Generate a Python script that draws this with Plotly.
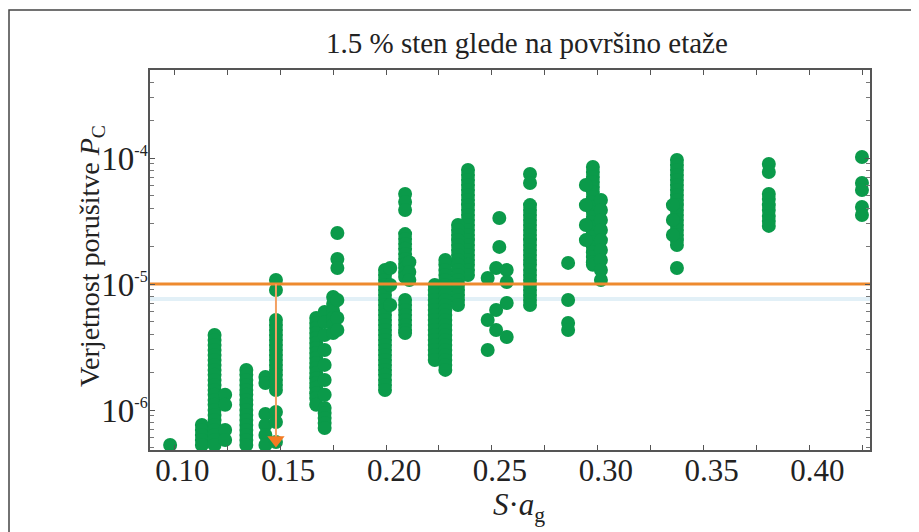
import plotly.graph_objects as go

# S*a_g position of each column of results
col_sag = [0.098, 0.113, 0.119, 0.124, 0.134, 0.143, 0.148, 0.167, 0.171, 0.175,
           0.177, 0.1995, 0.202, 0.209, 0.211, 0.223, 0.228, 0.2387, 0.234,
           0.2535, 0.252, 0.248, 0.257, 0.268, 0.286, 0.2977, 0.3015, 0.2944,
           0.3374, 0.3355, 0.3808, 0.4248]

# probability of collapse P_C for the points in each column
col_pc = [
    [5.27e-7],
    [7.6e-7, 6.94e-7, 6.33e-7, 5.78e-7, 5.27e-7],
    [3.94e-6, 3.59e-6, 3.28e-6, 2.99e-6, 2.73e-6, 2.49e-6, 2.28e-6, 2.08e-6, 1.90e-6, 1.73e-6,
     1.58e-6, 1.44e-6, 1.32e-6, 1.20e-6, 1.10e-6, 1.00e-6, 9.13e-7, 8.33e-7, 7.60e-7, 6.94e-7,
     6.33e-7, 5.78e-7, 5.27e-7],
    [1.32e-6, 1.10e-6, 6.94e-7, 5.78e-7],
    [2.08e-6, 1.90e-6, 1.73e-6, 1.58e-6, 1.44e-6, 1.32e-6, 1.20e-6, 1.10e-6, 1.00e-6, 9.13e-7,
     8.33e-7, 7.60e-7, 6.94e-7, 6.33e-7, 5.78e-7, 5.27e-7],
    [1.83e-6, 1.64e-6, 9.29e-7, 7.60e-7, 6.33e-7, 5.27e-7],
    [1.076e-5, 8.96e-6, 5.18e-6, 4.73e-6, 4.31e-6, 3.94e-6, 3.59e-6, 3.28e-6, 2.99e-6, 2.73e-6,
     2.49e-6, 2.28e-6, 2.08e-6, 1.90e-6, 1.73e-6, 1.58e-6, 1.44e-6, 9.64e-7, 8.03e-7, 5.57e-7],
    [5.37e-6, 4.90e-6, 4.47e-6, 4.08e-6, 3.73e-6, 3.40e-6, 3.11e-6, 2.83e-6, 2.59e-6, 2.36e-6,
     2.15e-6, 1.97e-6, 1.79e-6, 1.64e-6, 1.50e-6, 1.36e-6, 1.245e-6, 1.10e-6],
    [5.99e-6, 4.99e-6, 3.94e-6, 2.99e-6, 2.28e-6, 1.73e-6, 1.32e-6, 1.037e-6, 9.47e-7, 8.64e-7,
     7.88e-7, 7.20e-7],
    [7.88e-6, 6.94e-6, 6.10e-6, 5.37e-6, 4.73e-6, 4.08e-6],
    [2.54e-5, 1.58e-5, 1.34e-5, 7.46e-6, 5.37e-6, 4.31e-6],
    [1.29e-5, 1.18e-5, 1.076e-5, 9.82e-6, 8.96e-6, 8.18e-6, 7.46e-6, 6.81e-6, 6.22e-6, 5.68e-6,
     5.18e-6, 4.73e-6, 4.31e-6, 3.94e-6, 3.59e-6, 3.28e-6, 2.99e-6, 2.73e-6, 2.49e-6, 2.28e-6,
     2.08e-6, 1.90e-6, 1.73e-6, 1.58e-6, 1.44e-6],
    [1.34e-5, 9.82e-6, 6.81e-6],
    [5.18e-5, 4.47e-5, 3.87e-5, 2.49e-5, 2.28e-5, 2.08e-5, 1.90e-5, 1.73e-5, 1.58e-5, 1.44e-5,
     1.34e-5, 1.22e-5, 1.136e-5, 7.46e-6, 6.81e-6, 6.22e-6, 5.68e-6, 5.18e-6, 4.73e-6, 4.31e-6,
     4.08e-6],
    [1.49e-5, 1.245e-5, 1.076e-5],
    [9.82e-6, 8.96e-6, 8.18e-6, 7.46e-6, 6.81e-6, 6.22e-6, 5.68e-6, 5.18e-6, 4.73e-6, 4.31e-6,
     3.94e-6, 3.59e-6, 3.28e-6, 2.99e-6, 2.73e-6, 2.49e-6],
    [1.55e-5, 1.42e-5, 1.29e-5, 1.18e-5, 1.076e-5, 9.82e-6, 8.96e-6, 8.18e-6, 7.46e-6, 6.81e-6,
     6.22e-6, 5.68e-6, 5.18e-6, 4.73e-6, 4.31e-6, 3.94e-6, 3.59e-6, 3.28e-6, 2.99e-6, 2.73e-6,
     2.49e-6, 2.28e-6, 2.08e-6],
    [8.03e-5, 7.33e-5, 6.69e-5, 6.10e-5, 5.57e-5, 5.08e-5, 4.64e-5, 4.23e-5, 3.87e-5, 3.53e-5,
     3.22e-5, 2.94e-5, 2.68e-5, 2.45e-5, 2.23e-5, 2.04e-5, 1.86e-5, 1.70e-5, 1.55e-5, 1.42e-5,
     1.29e-5, 1.18e-5],
    [2.94e-5, 2.68e-5, 2.45e-5, 2.23e-5, 2.04e-5, 1.86e-5, 1.70e-5, 1.55e-5, 1.42e-5, 1.29e-5,
     1.18e-5, 1.076e-5, 9.82e-6, 8.96e-6, 8.18e-6, 7.46e-6, 6.81e-6],
    [3.34e-5, 1.97e-5],
    [1.34e-5, 6.22e-6, 4.31e-6],
    [1.116e-5, 5.18e-6, 2.99e-6],
    [1.29e-5, 1.037e-5, 7.07e-6, 3.80e-6],
    [7.46e-5, 6.33e-5, 4.23e-5, 3.87e-5, 3.53e-5, 3.22e-5, 2.94e-5, 2.68e-5, 2.45e-5, 2.23e-5,
     2.04e-5, 1.86e-5, 1.70e-5, 1.55e-5, 1.42e-5, 1.29e-5, 1.18e-5, 1.076e-5, 9.82e-6, 8.96e-6,
     8.18e-6, 7.46e-6, 6.81e-6],
    [1.47e-5, 7.46e-6, 4.90e-6, 4.31e-6],
    [8.48e-5, 7.74e-5, 7.07e-5, 6.45e-5, 5.89e-5, 5.37e-5, 4.90e-5, 4.47e-5, 4.08e-5, 3.73e-5,
     3.40e-5, 3.11e-5, 2.83e-5, 2.59e-5, 2.36e-5, 2.15e-5, 1.97e-5, 1.79e-5, 1.64e-5, 1.49e-5,
     1.42e-5],
    [4.64e-5, 3.87e-5, 3.22e-5, 2.68e-5, 2.23e-5, 1.86e-5, 1.55e-5, 1.29e-5, 1.076e-5],
    [6.10e-5, 4.23e-5, 2.94e-5, 2.23e-5],
    [9.64e-5, 8.80e-5, 8.03e-5, 7.33e-5, 6.69e-5, 6.10e-5, 5.57e-5, 5.08e-5, 4.64e-5, 4.23e-5,
     3.87e-5, 3.53e-5, 3.22e-5, 2.94e-5, 2.68e-5, 2.45e-5, 2.23e-5, 2.04e-5, 1.34e-5],
    [4.23e-5, 3.22e-5, 2.45e-5],
    [8.96e-5, 7.74e-5, 5.18e-5, 4.73e-5, 4.23e-5, 3.87e-5, 3.46e-5, 3.16e-5, 2.89e-5],
    [1.018e-4, 6.33e-5, 5.57e-5, 4.08e-5, 3.53e-5],
]

x_ticks = [0.10, 0.15, 0.20, 0.25, 0.30, 0.35, 0.40]
x_ticklabels = ["0.10", "0.15", "0.20", "0.25", "0.30", "0.35", "0.40"]
y_ticks = [1e-6, 1e-5, 1e-4]
y_ticklabels = ["10<sup><span style='font-size:16px'>-6</span></sup>",
                "10<sup><span style='font-size:16px'>-5</span></sup>",
                "10<sup><span style='font-size:16px'>-4</span></sup>"]

threshold_pc = 1.0e-5      # horizontal target line
ghost_pc = 7.6e-6          # faint light line below it
arrow_sag = 0.148          # vertical arrow position
arrow_end_pc = 5.57e-7
arrow_head_pc = 5.78e-7

x_range = [0.0885, 0.4286]
y_range_log = [-6.3175, -3.3016]

xs, ys = [], []
for sx, vals in zip(col_sag, col_pc):
    for v in vals:
        xs.append(sx)
        ys.append(v)

FONT = "Liberation Serif"
GREEN = "#0b9a4a"
ORANGE = "#ee8a2e"

fig = go.Figure()

fig.add_trace(go.Scatter(x=x_range, y=[ghost_pc, ghost_pc], mode="lines",
                         line=dict(color="#e2f0f7", width=4), hoverinfo="skip"))

fig.add_trace(go.Scatter(x=xs, y=ys, mode="markers",
                         marker=dict(color=GREEN, size=14, line=dict(width=0))))

fig.add_trace(go.Scatter(x=x_range, y=[threshold_pc, threshold_pc], mode="lines",
                         line=dict(color=ORANGE, width=3), hoverinfo="skip"))

fig.add_trace(go.Scatter(x=[arrow_sag, arrow_sag], y=[threshold_pc, arrow_end_pc], mode="lines",
                         line=dict(color="#f3a062", width=2), hoverinfo="skip"))
fig.add_trace(go.Scatter(x=[arrow_sag], y=[arrow_head_pc], mode="markers",
                         marker=dict(symbol="triangle-down", size=15, color="#f47a22"),
                         hoverinfo="skip"))

axis_common = dict(
    showline=True, linecolor="#555555", linewidth=1.5, mirror="ticks",
    ticks="inside", ticklen=5, tickwidth=1, tickcolor="#555555",
    showgrid=False, zeroline=False,
)

fig.update_xaxes(range=x_range, tickmode="array", tickvals=x_ticks, ticktext=x_ticklabels,
                 tickfont=dict(family=FONT, size=31, color="#222"),
                 ticklabelstandoff=-8, ticklabelshift=8,
                 minor=dict(ticks="inside", ticklen=5, tickcolor="#555555",
                            tickmode="linear", tick0=0.075, dtick=0.05),
                 **axis_common)

fig.update_yaxes(type="log", range=y_range_log, tickmode="array", tickvals=y_ticks,
                 ticktext=y_ticklabels,
                 tickfont=dict(family=FONT, size=33, color="#222"),
                 ticklabelstandoff=-6,
                 minor=dict(ticks="inside", ticklen=4, tickcolor="#777777", dtick="D1"),
                 **axis_common)

# the page adds an 8 px body margin, so the figure is 8 px smaller and offset
OFF = 8
W, H = 919 - OFF, 532 - OFF
L, R, T, B = 150 - OFF, 49, 70 - OFF, 82


def px(xp):
    return (xp - 150) / 720


def py(yp):
    return (450 - yp) / 380


fig.update_layout(
    width=W, height=H,
    margin=dict(l=L, r=R, t=T, b=B),
    paper_bgcolor="white", plot_bgcolor="white",
    showlegend=False,
    font=dict(family=FONT, color="#222"),
    annotations=[
        dict(text="1.5 % sten glede na površino etaže", xref="paper", yref="paper",
             x=px(527), y=py(43), showarrow=False, font=dict(size=29, family=FONT, color="#222"),
             xanchor="center", yanchor="middle"),
        dict(text="Verjetnost porušitve <i>P</i><sub>C</sub>", xref="paper", yref="paper",
             x=px(91), y=py(256), showarrow=False, textangle=-90,
             font=dict(size=28, family=FONT, color="#222"),
             xanchor="center", yanchor="middle"),
        dict(text="<i>S</i>·<i>a</i><sub>g</sub>", xref="paper", yref="paper",
             x=px(519), y=py(507), showarrow=False,
             font=dict(size=31, family=FONT, color="#222"),
             xanchor="center", yanchor="middle"),
    ],
    shapes=[
        dict(type="rect", xref="paper", yref="paper",
             x0=px(9), x1=px(915), y0=py(545), y1=py(10),
             line=dict(color="#444444", width=1.5), fillcolor="rgba(0,0,0,0)", layer="below"),
    ],
)

fig.write_html("out.html")
